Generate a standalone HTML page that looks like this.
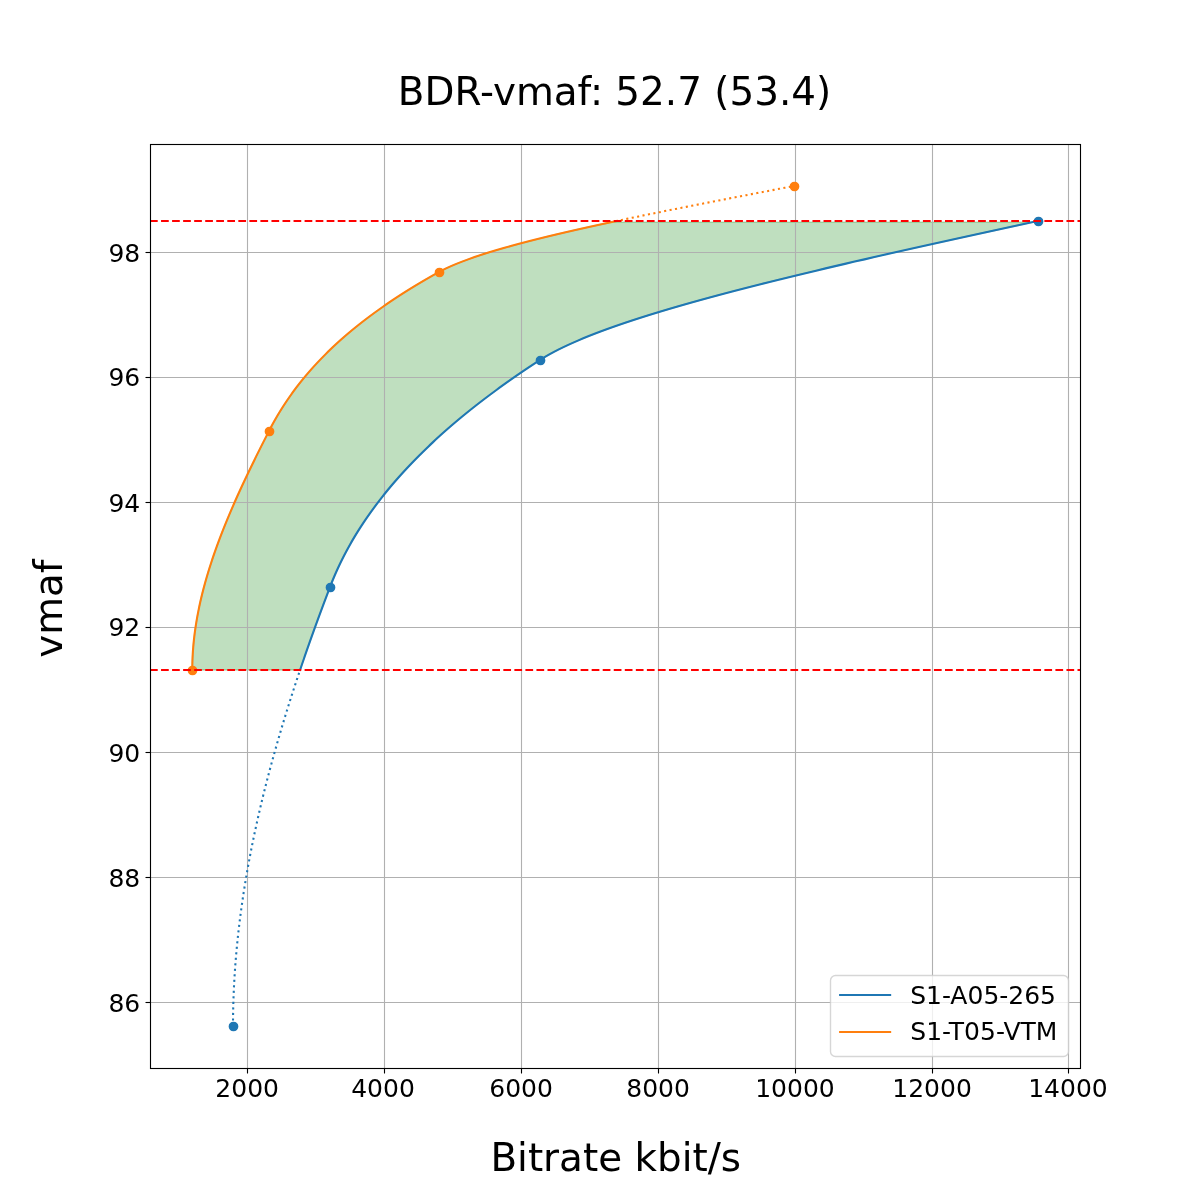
<!DOCTYPE html>
<html lang="en"><head><meta charset="utf-8"><title>BDR-vmaf: 52.7 (53.4)</title>
<style>
html,body{margin:0;padding:0;background:#fff;}
body{width:1200px;height:1200px;overflow:hidden;}
svg{display:block;}
text{font-family:"DejaVu Sans","Liberation Sans",sans-serif;fill:#000;}
.t28{font-size:38.889px;}
.t18{font-size:25px;}
.grid{stroke:#b0b0b0;stroke-width:1.111;fill:none;}
.ax{stroke:#000;stroke-width:1.111;fill:none;}
.c0{stroke:#1f77b4;}.c1{stroke:#ff7f0e;}
.ln{fill:none;stroke-width:2.083;stroke-linejoin:round;stroke-linecap:square;}
.dot{fill:none;stroke-width:2.083;stroke-linejoin:round;stroke-linecap:butt;stroke-dasharray:2.083 3.4375;}
.m0{fill:#1f77b4;stroke:#1f77b4;stroke-width:1.389;}.m1{fill:#ff7f0e;stroke:#ff7f0e;stroke-width:1.389;}
.red{stroke:#ff0000;stroke-width:2.083;fill:none;stroke-dasharray:7.70833 3.33333;}
</style></head><body>
<svg width="1200" height="1200" viewBox="0 0 1200 1200">
<rect x="0" y="0" width="1200" height="1200" fill="#ffffff"/>
<defs><clipPath id="axclip"><rect x="150" y="144" width="930" height="924"/></clipPath></defs>
<g clip-path="url(#axclip)">
<path d="M192.27 670.00 L192.28 667.74 L192.31 665.49 L192.36 663.23 L192.43 660.98 L192.51 658.72 L192.61 656.46 L192.73 654.21 L192.87 651.95 L193.03 649.69 L193.21 647.44 L193.40 645.18 L193.61 642.92 L193.84 640.67 L194.08 638.41 L194.34 636.16 L194.62 633.90 L194.92 631.64 L195.23 629.39 L195.56 627.13 L195.91 624.87 L196.27 622.62 L196.64 620.36 L197.03 618.11 L197.44 615.85 L197.87 613.59 L198.31 611.34 L198.76 609.08 L199.23 606.82 L199.71 604.57 L200.21 602.31 L200.72 600.05 L201.25 597.80 L201.79 595.54 L202.35 593.29 L202.92 591.03 L203.50 588.77 L204.10 586.52 L204.71 584.26 L205.33 582.00 L205.97 579.75 L206.62 577.49 L207.28 575.24 L207.95 572.98 L208.64 570.72 L209.34 568.47 L210.05 566.21 L210.78 563.96 L211.51 561.70 L212.26 559.44 L213.02 557.19 L213.79 554.93 L214.57 552.67 L215.36 550.42 L216.17 548.16 L216.98 545.90 L217.81 543.65 L218.64 541.39 L219.49 539.14 L220.34 536.88 L221.21 534.62 L222.08 532.37 L222.97 530.11 L223.86 527.85 L224.76 525.60 L225.68 523.34 L226.60 521.09 L227.53 518.83 L228.47 516.57 L229.42 514.32 L230.38 512.06 L231.34 509.80 L232.31 507.55 L233.29 505.29 L234.28 503.04 L235.28 500.78 L236.28 498.52 L237.29 496.27 L238.31 494.01 L239.34 491.75 L240.37 489.50 L241.41 487.24 L242.45 484.99 L243.50 482.73 L244.56 480.47 L245.63 478.22 L246.70 475.96 L247.77 473.70 L248.85 471.45 L249.94 469.19 L251.03 466.94 L252.13 464.68 L253.23 462.42 L254.34 460.17 L255.45 457.91 L256.56 455.65 L257.68 453.40 L258.81 451.14 L259.94 448.88 L261.07 446.63 L262.20 444.37 L263.34 442.12 L264.49 439.86 L265.63 437.60 L266.78 435.35 L267.93 433.09 L269.09 430.83 L270.26 428.58 L271.45 426.32 L272.67 424.06 L273.92 421.81 L275.19 419.55 L276.49 417.30 L277.81 415.04 L279.17 412.78 L280.55 410.53 L281.96 408.27 L283.40 406.01 L284.87 403.76 L286.37 401.50 L287.90 399.25 L289.46 396.99 L291.05 394.73 L292.68 392.48 L294.33 390.22 L296.02 387.96 L297.75 385.71 L299.51 383.45 L301.30 381.20 L303.13 378.94 L304.99 376.68 L306.89 374.43 L308.82 372.17 L310.80 369.92 L312.80 367.66 L314.85 365.40 L316.94 363.15 L319.06 360.89 L321.23 358.63 L323.43 356.38 L325.67 354.12 L327.96 351.86 L330.29 349.61 L332.65 347.35 L335.06 345.10 L337.51 342.84 L340.01 340.58 L342.55 338.33 L345.13 336.07 L347.76 333.81 L350.44 331.56 L353.16 329.30 L355.92 327.05 L358.74 324.79 L361.59 322.53 L364.50 320.28 L367.45 318.02 L370.46 315.76 L373.51 313.51 L376.61 311.25 L379.76 309.00 L382.97 306.74 L386.22 304.48 L389.53 302.23 L392.88 299.97 L396.29 297.71 L399.75 295.46 L403.27 293.20 L406.84 290.94 L410.46 288.69 L414.14 286.43 L417.88 284.18 L421.67 281.92 L425.51 279.66 L429.41 277.41 L433.37 275.15 L437.39 272.89 L441.53 270.64 L446.06 268.38 L451.00 266.13 L456.32 263.87 L462.03 261.61 L468.11 259.36 L474.55 257.10 L481.33 254.84 L488.44 252.59 L495.88 250.33 L503.63 248.07 L511.68 245.82 L520.02 243.56 L528.63 241.31 L537.51 239.05 L546.65 236.79 L556.02 234.54 L565.62 232.28 L575.44 230.03 L585.47 227.77 L595.69 225.51 L606.10 223.26 L610.58 222.30 L1031.76 222.30 L1027.37 223.26 L1017.02 225.51 L1006.67 227.77 L996.34 230.03 L986.01 232.28 L975.70 234.54 L965.42 236.79 L955.15 239.05 L944.92 241.31 L934.72 243.56 L924.55 245.82 L914.42 248.07 L904.33 250.33 L894.29 252.59 L884.30 254.84 L874.36 257.10 L864.49 259.36 L854.67 261.61 L844.91 263.87 L835.23 266.13 L825.61 268.38 L816.07 270.64 L806.61 272.89 L797.24 275.15 L787.95 277.41 L778.75 279.66 L769.64 281.92 L760.63 284.18 L751.73 286.43 L742.93 288.69 L734.23 290.94 L725.65 293.20 L717.19 295.46 L708.84 297.71 L700.62 299.97 L692.52 302.23 L684.56 304.48 L676.73 306.74 L669.04 309.00 L661.49 311.25 L654.08 313.51 L646.83 315.76 L639.72 318.02 L632.78 320.28 L625.99 322.53 L619.37 324.79 L612.91 327.05 L606.62 329.30 L600.51 331.56 L594.58 333.81 L588.83 336.07 L583.27 338.33 L577.89 340.58 L572.71 342.84 L567.73 345.10 L562.94 347.35 L558.36 349.61 L553.99 351.86 L549.83 354.12 L545.88 356.38 L542.15 358.63 L538.63 360.89 L535.18 363.15 L531.75 365.40 L528.36 367.66 L525.00 369.92 L521.67 372.17 L518.37 374.43 L515.10 376.68 L511.86 378.94 L508.65 381.20 L505.47 383.45 L502.32 385.71 L499.20 387.96 L496.11 390.22 L493.05 392.48 L490.02 394.73 L487.02 396.99 L484.05 399.25 L481.11 401.50 L478.19 403.76 L475.31 406.01 L472.45 408.27 L469.63 410.53 L466.83 412.78 L464.06 415.04 L461.32 417.30 L458.61 419.55 L455.93 421.81 L453.28 424.06 L450.65 426.32 L448.05 428.58 L445.48 430.83 L442.94 433.09 L440.43 435.35 L437.94 437.60 L435.48 439.86 L433.05 442.12 L430.65 444.37 L428.27 446.63 L425.92 448.88 L423.60 451.14 L421.31 453.40 L419.04 455.65 L416.80 457.91 L414.58 460.17 L412.40 462.42 L410.24 464.68 L408.10 466.94 L405.99 469.19 L403.91 471.45 L401.86 473.70 L399.82 475.96 L397.82 478.22 L395.84 480.47 L393.89 482.73 L391.96 484.99 L390.06 487.24 L388.19 489.50 L386.34 491.75 L384.51 494.01 L382.71 496.27 L380.94 498.52 L379.19 500.78 L377.46 503.04 L375.76 505.29 L374.09 507.55 L372.44 509.80 L370.81 512.06 L369.21 514.32 L367.63 516.57 L366.07 518.83 L364.54 521.09 L363.04 523.34 L361.56 525.60 L360.10 527.85 L358.66 530.11 L357.25 532.37 L355.86 534.62 L354.50 536.88 L353.16 539.14 L351.84 541.39 L350.54 543.65 L349.27 545.90 L348.02 548.16 L346.80 550.42 L345.59 552.67 L344.41 554.93 L343.25 557.19 L342.12 559.44 L341.00 561.70 L339.91 563.96 L338.84 566.21 L337.79 568.47 L336.77 570.72 L335.76 572.98 L334.78 575.24 L333.82 577.49 L332.88 579.75 L331.96 582.00 L331.06 584.26 L330.19 586.52 L329.33 588.77 L328.47 591.03 L327.61 593.29 L326.76 595.54 L325.91 597.80 L325.06 600.05 L324.21 602.31 L323.37 604.57 L322.53 606.82 L321.69 609.08 L320.86 611.34 L320.02 613.59 L319.19 615.85 L318.36 618.11 L317.54 620.36 L316.71 622.62 L315.89 624.87 L315.08 627.13 L314.26 629.39 L313.45 631.64 L312.64 633.90 L311.83 636.16 L311.03 638.41 L310.23 640.67 L309.43 642.92 L308.64 645.18 L307.84 647.44 L307.05 649.69 L306.27 651.95 L305.48 654.21 L304.70 656.46 L303.93 658.72 L303.15 660.98 L302.38 663.23 L301.61 665.49 L300.85 667.74 L300.08 670.00 Z" fill="#008000" fill-opacity="0.25" stroke="#008000" stroke-opacity="0.25" stroke-width="1.389" stroke-linejoin="round"/>
<line class="grid" x1="247.5" y1="144" x2="247.5" y2="1068"/>
<line class="grid" x1="384.5" y1="144" x2="384.5" y2="1068"/>
<line class="grid" x1="521.5" y1="144" x2="521.5" y2="1068"/>
<line class="grid" x1="658.5" y1="144" x2="658.5" y2="1068"/>
<line class="grid" x1="795.5" y1="144" x2="795.5" y2="1068"/>
<line class="grid" x1="932.5" y1="144" x2="932.5" y2="1068"/>
<line class="grid" x1="1068.5" y1="144" x2="1068.5" y2="1068"/>
<line class="grid" x1="150" y1="1002.5" x2="1080" y2="1002.5"/>
<line class="grid" x1="150" y1="877.5" x2="1080" y2="877.5"/>
<line class="grid" x1="150" y1="752.5" x2="1080" y2="752.5"/>
<line class="grid" x1="150" y1="627.5" x2="1080" y2="627.5"/>
<line class="grid" x1="150" y1="502.5" x2="1080" y2="502.5"/>
<line class="grid" x1="150" y1="377.5" x2="1080" y2="377.5"/>
<line class="grid" x1="150" y1="252.5" x2="1080" y2="252.5"/>
<path class="ln c0" d="M300.08 670.00 L300.85 667.74 L301.61 665.49 L302.38 663.23 L303.15 660.98 L303.93 658.72 L304.70 656.46 L305.48 654.21 L306.27 651.95 L307.05 649.69 L307.84 647.44 L308.64 645.18 L309.43 642.92 L310.23 640.67 L311.03 638.41 L311.83 636.16 L312.64 633.90 L313.45 631.64 L314.26 629.39 L315.08 627.13 L315.89 624.87 L316.71 622.62 L317.54 620.36 L318.36 618.11 L319.19 615.85 L320.02 613.59 L320.86 611.34 L321.69 609.08 L322.53 606.82 L323.37 604.57 L324.21 602.31 L325.06 600.05 L325.91 597.80 L326.76 595.54 L327.61 593.29 L328.47 591.03 L329.33 588.77 L330.19 586.52 L331.06 584.26 L331.96 582.00 L332.88 579.75 L333.82 577.49 L334.78 575.24 L335.76 572.98 L336.77 570.72 L337.79 568.47 L338.84 566.21 L339.91 563.96 L341.00 561.70 L342.12 559.44 L343.25 557.19 L344.41 554.93 L345.59 552.67 L346.80 550.42 L348.02 548.16 L349.27 545.90 L350.54 543.65 L351.84 541.39 L353.16 539.14 L354.50 536.88 L355.86 534.62 L357.25 532.37 L358.66 530.11 L360.10 527.85 L361.56 525.60 L363.04 523.34 L364.54 521.09 L366.07 518.83 L367.63 516.57 L369.21 514.32 L370.81 512.06 L372.44 509.80 L374.09 507.55 L375.76 505.29 L377.46 503.04 L379.19 500.78 L380.94 498.52 L382.71 496.27 L384.51 494.01 L386.34 491.75 L388.19 489.50 L390.06 487.24 L391.96 484.99 L393.89 482.73 L395.84 480.47 L397.82 478.22 L399.82 475.96 L401.86 473.70 L403.91 471.45 L405.99 469.19 L408.10 466.94 L410.24 464.68 L412.40 462.42 L414.58 460.17 L416.80 457.91 L419.04 455.65 L421.31 453.40 L423.60 451.14 L425.92 448.88 L428.27 446.63 L430.65 444.37 L433.05 442.12 L435.48 439.86 L437.94 437.60 L440.43 435.35 L442.94 433.09 L445.48 430.83 L448.05 428.58 L450.65 426.32 L453.28 424.06 L455.93 421.81 L458.61 419.55 L461.32 417.30 L464.06 415.04 L466.83 412.78 L469.63 410.53 L472.45 408.27 L475.31 406.01 L478.19 403.76 L481.11 401.50 L484.05 399.25 L487.02 396.99 L490.02 394.73 L493.05 392.48 L496.11 390.22 L499.20 387.96 L502.32 385.71 L505.47 383.45 L508.65 381.20 L511.86 378.94 L515.10 376.68 L518.37 374.43 L521.67 372.17 L525.00 369.92 L528.36 367.66 L531.75 365.40 L535.18 363.15 L538.63 360.89 L542.15 358.63 L545.88 356.38 L549.83 354.12 L553.99 351.86 L558.36 349.61 L562.94 347.35 L567.73 345.10 L572.71 342.84 L577.89 340.58 L583.27 338.33 L588.83 336.07 L594.58 333.81 L600.51 331.56 L606.62 329.30 L612.91 327.05 L619.37 324.79 L625.99 322.53 L632.78 320.28 L639.72 318.02 L646.83 315.76 L654.08 313.51 L661.49 311.25 L669.04 309.00 L676.73 306.74 L684.56 304.48 L692.52 302.23 L700.62 299.97 L708.84 297.71 L717.19 295.46 L725.65 293.20 L734.23 290.94 L742.93 288.69 L751.73 286.43 L760.63 284.18 L769.64 281.92 L778.75 279.66 L787.95 277.41 L797.24 275.15 L806.61 272.89 L816.07 270.64 L825.61 268.38 L835.23 266.13 L844.91 263.87 L854.67 261.61 L864.49 259.36 L874.36 257.10 L884.30 254.84 L894.29 252.59 L904.33 250.33 L914.42 248.07 L924.55 245.82 L934.72 243.56 L944.92 241.31 L955.15 239.05 L965.42 236.79 L975.70 234.54 L986.01 232.28 L996.34 230.03 L1006.67 227.77 L1017.02 225.51 L1027.37 223.26 L1037.73 221.00"/>
<path class="ln c1" d="M192.27 670.00 L192.28 667.74 L192.31 665.49 L192.36 663.23 L192.43 660.98 L192.51 658.72 L192.61 656.46 L192.73 654.21 L192.87 651.95 L193.03 649.69 L193.21 647.44 L193.40 645.18 L193.61 642.92 L193.84 640.67 L194.08 638.41 L194.34 636.16 L194.62 633.90 L194.92 631.64 L195.23 629.39 L195.56 627.13 L195.91 624.87 L196.27 622.62 L196.64 620.36 L197.03 618.11 L197.44 615.85 L197.87 613.59 L198.31 611.34 L198.76 609.08 L199.23 606.82 L199.71 604.57 L200.21 602.31 L200.72 600.05 L201.25 597.80 L201.79 595.54 L202.35 593.29 L202.92 591.03 L203.50 588.77 L204.10 586.52 L204.71 584.26 L205.33 582.00 L205.97 579.75 L206.62 577.49 L207.28 575.24 L207.95 572.98 L208.64 570.72 L209.34 568.47 L210.05 566.21 L210.78 563.96 L211.51 561.70 L212.26 559.44 L213.02 557.19 L213.79 554.93 L214.57 552.67 L215.36 550.42 L216.17 548.16 L216.98 545.90 L217.81 543.65 L218.64 541.39 L219.49 539.14 L220.34 536.88 L221.21 534.62 L222.08 532.37 L222.97 530.11 L223.86 527.85 L224.76 525.60 L225.68 523.34 L226.60 521.09 L227.53 518.83 L228.47 516.57 L229.42 514.32 L230.38 512.06 L231.34 509.80 L232.31 507.55 L233.29 505.29 L234.28 503.04 L235.28 500.78 L236.28 498.52 L237.29 496.27 L238.31 494.01 L239.34 491.75 L240.37 489.50 L241.41 487.24 L242.45 484.99 L243.50 482.73 L244.56 480.47 L245.63 478.22 L246.70 475.96 L247.77 473.70 L248.85 471.45 L249.94 469.19 L251.03 466.94 L252.13 464.68 L253.23 462.42 L254.34 460.17 L255.45 457.91 L256.56 455.65 L257.68 453.40 L258.81 451.14 L259.94 448.88 L261.07 446.63 L262.20 444.37 L263.34 442.12 L264.49 439.86 L265.63 437.60 L266.78 435.35 L267.93 433.09 L269.09 430.83 L270.26 428.58 L271.45 426.32 L272.67 424.06 L273.92 421.81 L275.19 419.55 L276.49 417.30 L277.81 415.04 L279.17 412.78 L280.55 410.53 L281.96 408.27 L283.40 406.01 L284.87 403.76 L286.37 401.50 L287.90 399.25 L289.46 396.99 L291.05 394.73 L292.68 392.48 L294.33 390.22 L296.02 387.96 L297.75 385.71 L299.51 383.45 L301.30 381.20 L303.13 378.94 L304.99 376.68 L306.89 374.43 L308.82 372.17 L310.80 369.92 L312.80 367.66 L314.85 365.40 L316.94 363.15 L319.06 360.89 L321.23 358.63 L323.43 356.38 L325.67 354.12 L327.96 351.86 L330.29 349.61 L332.65 347.35 L335.06 345.10 L337.51 342.84 L340.01 340.58 L342.55 338.33 L345.13 336.07 L347.76 333.81 L350.44 331.56 L353.16 329.30 L355.92 327.05 L358.74 324.79 L361.59 322.53 L364.50 320.28 L367.45 318.02 L370.46 315.76 L373.51 313.51 L376.61 311.25 L379.76 309.00 L382.97 306.74 L386.22 304.48 L389.53 302.23 L392.88 299.97 L396.29 297.71 L399.75 295.46 L403.27 293.20 L406.84 290.94 L410.46 288.69 L414.14 286.43 L417.88 284.18 L421.67 281.92 L425.51 279.66 L429.41 277.41 L433.37 275.15 L437.39 272.89 L441.53 270.64 L446.06 268.38 L451.00 266.13 L456.32 263.87 L462.03 261.61 L468.11 259.36 L474.55 257.10 L481.33 254.84 L488.44 252.59 L495.88 250.33 L503.63 248.07 L511.68 245.82 L520.02 243.56 L528.63 241.31 L537.51 239.05 L546.65 236.79 L556.02 234.54 L565.62 232.28 L575.44 230.03 L585.47 227.77 L595.69 225.51 L606.10 223.26 L616.68 221.00"/>
<path class="dot c0" d="M233.00 1026.00 L233.01 1022.40 L233.03 1018.81 L233.08 1015.21 L233.13 1011.62 L233.21 1008.02 L233.30 1004.42 L233.40 1000.83 L233.53 997.23 L233.66 993.64 L233.82 990.04 L233.99 986.44 L234.17 982.85 L234.37 979.25 L234.59 975.66 L234.82 972.06 L235.06 968.47 L235.32 964.87 L235.60 961.27 L235.89 957.68 L236.20 954.08 L236.52 950.49 L236.86 946.89 L237.21 943.29 L237.57 939.70 L237.95 936.10 L238.35 932.50 L238.76 928.91 L239.18 925.31 L239.62 921.72 L240.07 918.12 L240.53 914.52 L241.01 910.93 L241.50 907.33 L242.01 903.74 L242.53 900.14 L243.06 896.54 L243.61 892.95 L244.17 889.35 L244.74 885.76 L245.33 882.16 L245.93 878.57 L246.54 874.97 L247.16 871.37 L247.80 867.78 L248.45 864.18 L249.12 860.59 L249.79 856.99 L250.48 853.39 L251.18 849.80 L251.90 846.20 L252.62 842.61 L253.36 839.01 L254.11 835.41 L254.87 831.82 L255.64 828.22 L256.43 824.63 L257.23 821.03 L258.03 817.43 L258.85 813.84 L259.69 810.24 L260.53 806.65 L261.38 803.05 L262.25 799.46 L263.12 795.86 L264.01 792.26 L264.91 788.67 L265.82 785.07 L266.74 781.48 L267.67 777.88 L268.61 774.28 L269.56 770.69 L270.52 767.09 L271.49 763.50 L272.47 759.90 L273.47 756.30 L274.47 752.71 L275.48 749.11 L276.50 745.51 L277.53 741.92 L278.58 738.32 L279.63 734.73 L280.69 731.13 L281.76 727.53 L282.84 723.94 L283.92 720.34 L285.02 716.75 L286.13 713.15 L287.24 709.56 L288.37 705.96 L289.50 702.36 L290.64 698.77 L291.80 695.17 L292.95 691.58 L294.12 687.98 L295.30 684.38 L296.48 680.79 L297.67 677.19 L298.88 673.60 L300.08 670.00"/>
<path class="dot c1" d="M615.50 221.25 L616.68 221.00 L618.35 220.65 L620.02 220.29 L621.70 219.94 L623.39 219.59 L625.08 219.23 L626.77 218.88 L628.46 218.53 L630.16 218.17 L631.86 217.82 L633.57 217.47 L635.27 217.11 L636.99 216.76 L638.70 216.40 L640.42 216.05 L642.14 215.70 L643.87 215.34 L645.60 214.99 L647.33 214.64 L649.07 214.28 L650.80 213.93 L652.54 213.58 L654.29 213.22 L656.04 212.87 L657.79 212.51 L659.54 212.16 L661.29 211.81 L663.05 211.46 L664.81 211.10 L666.58 210.75 L668.34 210.39 L670.11 210.04 L671.88 209.69 L673.66 209.33 L675.43 208.98 L677.21 208.63 L679.00 208.27 L680.78 207.92 L682.56 207.57 L684.35 207.21 L686.14 206.86 L687.93 206.50 L689.73 206.15 L691.52 205.80 L693.32 205.44 L695.12 205.09 L696.93 204.74 L698.73 204.38 L700.54 204.03 L702.34 203.68 L704.15 203.32 L705.97 202.97 L707.78 202.62 L709.59 202.26 L711.41 201.91 L713.23 201.56 L715.04 201.20 L716.86 200.85 L718.69 200.50 L720.51 200.14 L722.33 199.79 L724.16 199.43 L725.99 199.08 L727.81 198.73 L729.64 198.37 L731.47 198.02 L733.30 197.67 L735.13 197.31 L736.97 196.96 L738.80 196.61 L740.64 196.25 L742.47 195.90 L744.31 195.54 L746.14 195.19 L747.98 194.84 L749.82 194.49 L751.66 194.13 L753.50 193.78 L755.34 193.42 L757.18 193.07 L759.02 192.72 L760.86 192.36 L762.70 192.01 L764.54 191.66 L766.38 191.30 L768.22 190.95 L770.07 190.60 L771.91 190.24 L773.75 189.89 L775.59 189.53 L777.43 189.18 L779.27 188.83 L781.12 188.47 L782.96 188.12 L784.80 187.77 L786.64 187.41 L788.48 187.06 L790.32 186.71 L792.16 186.35 L794.00 186.00"/>
<circle class="m0" cx="233.5" cy="1026.5" r="4.167"/>
<circle class="m0" cx="330.5" cy="587.5" r="4.167"/>
<circle class="m0" cx="540.5" cy="360.5" r="4.167"/>
<circle class="m0" cx="1038.5" cy="221.5" r="4.167"/>
<circle class="m1" cx="192.5" cy="670.5" r="4.167"/>
<circle class="m1" cx="269.5" cy="431.5" r="4.167"/>
<circle class="m1" cx="439.5" cy="272.5" r="4.167"/>
<circle class="m1" cx="794.5" cy="186.5" r="4.167"/>
<line class="red" x1="150" y1="670.0" x2="1080" y2="670.0"/>
<line class="red" x1="150" y1="221.0" x2="1080" y2="221.0"/>
</g>
<line class="ax" x1="247.5" y1="1068.5" x2="247.5" y2="1073.5"/>
<line class="ax" x1="384.5" y1="1068.5" x2="384.5" y2="1073.5"/>
<line class="ax" x1="521.5" y1="1068.5" x2="521.5" y2="1073.5"/>
<line class="ax" x1="658.5" y1="1068.5" x2="658.5" y2="1073.5"/>
<line class="ax" x1="795.5" y1="1068.5" x2="795.5" y2="1073.5"/>
<line class="ax" x1="932.5" y1="1068.5" x2="932.5" y2="1073.5"/>
<line class="ax" x1="1068.5" y1="1068.5" x2="1068.5" y2="1073.5"/>
<line class="ax" x1="145.5" y1="1002.5" x2="150.5" y2="1002.5"/>
<line class="ax" x1="145.5" y1="877.5" x2="150.5" y2="877.5"/>
<line class="ax" x1="145.5" y1="752.5" x2="150.5" y2="752.5"/>
<line class="ax" x1="145.5" y1="627.5" x2="150.5" y2="627.5"/>
<line class="ax" x1="145.5" y1="502.5" x2="150.5" y2="502.5"/>
<line class="ax" x1="145.5" y1="377.5" x2="150.5" y2="377.5"/>
<line class="ax" x1="145.5" y1="252.5" x2="150.5" y2="252.5"/>
<rect class="ax" x="150.5" y="144.5" width="930" height="924"/>
<text class="t18" x="247.15" y="1097" text-anchor="middle">2000</text>
<text class="t18" x="383.03" y="1097" text-anchor="middle">4000</text>
<text class="t18" x="521.07" y="1097" text-anchor="middle">6000</text>
<text class="t18" x="658.10" y="1097" text-anchor="middle">8000</text>
<text class="t18" x="794.94" y="1097" text-anchor="middle">10000</text>
<text class="t18" x="932.05" y="1097" text-anchor="middle">12000</text>
<text class="t18" x="1067.97" y="1097" text-anchor="middle">14000</text>
<text class="t18" x="140.28" y="1012" text-anchor="end">86</text>
<text class="t18" x="140.28" y="887" text-anchor="end">88</text>
<text class="t18" x="140.28" y="762" text-anchor="end">90</text>
<text class="t18" x="140.28" y="636" text-anchor="end">92</text>
<text class="t18" x="140.28" y="512" text-anchor="end">94</text>
<text class="t18" x="140.28" y="386" text-anchor="end">96</text>
<text class="t18" x="140.28" y="262" text-anchor="end">98</text>
<text class="t28" x="614.5" y="105" text-anchor="middle">BDR-vmaf: 52.7 (53.4)</text>
<text class="t28" x="615.73" y="1171" text-anchor="middle">Bitrate kbit/s</text>
<text class="t28" transform="translate(62.35 608.66) rotate(-90)" text-anchor="middle">vmaf</text>
<rect x="830.5" y="975.5" width="238" height="81" rx="5" ry="5" fill="#ffffff" fill-opacity="0.8" stroke="#cccccc" stroke-opacity="0.8" stroke-width="1.389"/>
<line class="ln c0" x1="840.125" y1="995" x2="890.125" y2="995"/>
<line class="ln c1" x1="840.125" y1="1032" x2="890.125" y2="1032"/>
<text class="t18" x="910.125" y="1004">S1-A05-265</text>
<text class="t18" x="910.3" y="1040">S1-T05-VTM</text>
</svg>
</body></html>
